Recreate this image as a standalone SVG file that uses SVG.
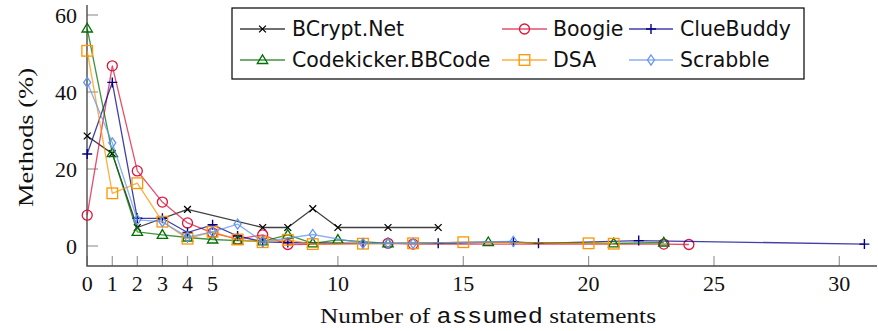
<svg xmlns="http://www.w3.org/2000/svg" width="878" height="331" viewBox="0 0 878 331">
<style>
.ser{fill:none;stroke-width:1.3;stroke-opacity:0.75;stroke-linejoin:round}
.ax{stroke:#4a4a4a;stroke-width:1.4;fill:none}
.tk{stroke:#9a9a9a;stroke-width:1.2}
.num{font-family:"Liberation Serif","DejaVu Serif",serif;font-size:22px;fill:#111}
.leg{font-family:"DejaVu Sans","Liberation Sans",sans-serif;font-size:20.5px;fill:#111}
.bc{stroke:#000}.bo{stroke:#dc143c}.cl{stroke:#00008b}.co{stroke:#007000}.ds{stroke:#ff9400}.sc{stroke:#6495ed}
</style>
<defs>
<marker id="mx" markerUnits="userSpaceOnUse" markerWidth="12" markerHeight="12" refX="6" refY="6" overflow="visible"><path d="M2.6,2.6L9.4,9.4M2.6,9.4L9.4,2.6" stroke="#000" stroke-width="1.3"/></marker>
<marker id="mo" markerUnits="userSpaceOnUse" markerWidth="14" markerHeight="14" refX="7" refY="7" overflow="visible"><circle cx="7" cy="7" r="5" fill="none" stroke="#dc143c" stroke-width="1.3"/></marker>
<marker id="mp" markerUnits="userSpaceOnUse" markerWidth="14" markerHeight="14" refX="7" refY="7" overflow="visible"><path d="M2,7H12M7,2V12" stroke="#00008b" stroke-width="1.4"/></marker>
<marker id="mt" markerUnits="userSpaceOnUse" markerWidth="14" markerHeight="14" refX="7" refY="7" overflow="visible"><path d="M7,1.8L12.2,10.5H1.8Z" fill="none" stroke="#007000" stroke-width="1.3"/></marker>
<marker id="ms" markerUnits="userSpaceOnUse" markerWidth="14" markerHeight="14" refX="7" refY="7" overflow="visible"><rect x="1.7" y="1.7" width="10.6" height="10.6" fill="none" stroke="#ff9400" stroke-width="1.3"/></marker>
<marker id="md" markerUnits="userSpaceOnUse" markerWidth="14" markerHeight="14" refX="7" refY="7" overflow="visible"><path d="M7,2L10.5,7L7,12L3.5,7Z" fill="none" stroke="#6495ed" stroke-width="1.3"/></marker>
</defs>

<g id="axes">
<g class="tk">
<line x1="87.2" y1="266" x2="87.2" y2="256"/><line x1="112.3" y1="266" x2="112.3" y2="256"/><line x1="137.3" y1="266" x2="137.3" y2="256"/><line x1="162.4" y1="266" x2="162.4" y2="256"/><line x1="187.5" y1="266" x2="187.5" y2="256"/><line x1="212.6" y1="266" x2="212.6" y2="256"/><line x1="337.9" y1="266" x2="337.9" y2="256"/><line x1="463.3" y1="266" x2="463.3" y2="256"/><line x1="588.6" y1="266" x2="588.6" y2="256"/><line x1="714" y1="266" x2="714" y2="256"/><line x1="839.3" y1="266" x2="839.3" y2="256"/>
<line x1="87" y1="246" x2="98" y2="246"/><line x1="87" y1="169" x2="98" y2="169"/><line x1="87" y1="92" x2="98" y2="92"/><line x1="87" y1="15" x2="98" y2="15"/>
</g>
<path class="ax" d="M87,5V266H877"/>
<g class="num" text-anchor="middle">
<text x="87.2" y="291">0</text><text x="112.3" y="291">1</text><text x="137.3" y="291">2</text><text x="162.4" y="291">3</text><text x="187.5" y="291">4</text><text x="212.6" y="291">5</text><text x="337.9" y="291">10</text><text x="463.3" y="291">15</text><text x="588.6" y="291">20</text><text x="714" y="291">25</text><text x="839.3" y="291">30</text>
</g>
<g class="num" text-anchor="end">
<text x="77" y="254">0</text><text x="77" y="177">20</text><text x="77" y="100">40</text><text x="77" y="23">60</text>
</g>
<text class="num" x="320" y="322.7" textLength="336" lengthAdjust="spacingAndGlyphs">Number of <tspan font-family="'Liberation Mono','DejaVu Sans Mono',monospace">assumed</tspan> statements</text>
<text class="num" transform="translate(33,137.5) rotate(-90)" x="0" y="0" text-anchor="middle" textLength="139" lengthAdjust="spacingAndGlyphs">Methods (%)</text>
</g>

<g id="connectors">
<polyline id="s-bcrypt" class="ser bc" marker-start="url(#mx)" marker-mid="url(#mx)" marker-end="url(#mx)" points="87.2,136 112.3,153.6 137.3,227.5 187.5,209.4 262.7,227.5 287.8,227.5 312.8,208.7 337.9,227.5 388,227.5 438.2,227.5"/>
<polyline id="s-boogie" class="ser bo" marker-start="url(#mo)" marker-mid="url(#mo)" marker-end="url(#mo)" points="87.2,215.2 112.3,65.8 137.3,170.9 162.4,202.1 187.5,222.9 212.6,232.9 237.6,239.1 262.7,234.8 287.8,244.5 388,243.3 413.1,244.1 663.8,244.1 688.9,244.5"/>
<polyline id="s-cluebuddy" class="ser cl" marker-start="url(#mp)" marker-mid="url(#mp)" marker-end="url(#mp)" points="87.2,154 112.3,82.4 137.3,218.3 162.4,218.3 187.5,232.5 212.6,224.8 237.6,236 262.7,241.8 287.8,242.5 363,243.3 438.2,243.3 513.4,241.8 538.5,243.3 638.7,240.6 864.4,244.1"/>
<polyline id="s-codekicker" class="ser co" marker-start="url(#mt)" marker-mid="url(#mt)" marker-end="url(#mt)" points="87.2,28.5 112.3,153.2 137.3,231.8 162.4,234.8 187.5,237.5 212.6,239.5 237.6,240.6 262.7,241.4 287.8,234.8 312.8,243.3 337.9,239.8 388,243.3 488.3,242.2 613.7,243.3 663.8,242.5"/>
<polyline id="s-dsa" class="ser ds" marker-start="url(#ms)" marker-mid="url(#ms)" marker-end="url(#ms)" points="87.2,50.8 112.3,193.3 137.3,183.2 162.4,221.7 187.5,238.7 212.6,231.8 237.6,239.5 262.7,242.2 287.8,239.8 312.8,244.1 363,243.7 413.1,243.3 463.3,242.2 588.6,243.3 613.7,243.7"/>
<polyline id="s-scrabble" class="ser sc" marker-start="url(#md)" marker-mid="url(#md)" marker-end="url(#md)" points="87.2,82.4 112.3,142.8 137.3,219.8 162.4,221.7 187.5,237.1 212.6,231.8 237.6,224.1 262.7,241.8 312.8,234.5 363,243.3 388,243.3 413.1,243.3 513.4,241.4"/>
</g>

<g id="legend">
<rect x="232" y="8" width="572" height="71" fill="#fff" stroke="#000" stroke-width="1.2"/>
<g id="leg-bcrypt"><polyline class="ser bc" points="240,29 262.5,29 285,29" marker-mid="url(#mx)"/><text class="leg" x="292" y="36">BCrypt.Net</text></g>
<g id="leg-boogie"><polyline class="ser bo" points="502,29 524.5,29 547,29" marker-mid="url(#mo)"/><text class="leg" x="553" y="36">Boogie</text></g>
<g id="leg-cluebuddy"><polyline class="ser cl" points="629,29 651,29 673,29" marker-mid="url(#mp)"/><text class="leg" x="680" y="36">ClueBuddy</text></g>
<g id="leg-codekicker"><polyline class="ser co" points="240,60 262.5,60 285,60" marker-mid="url(#mt)"/><text class="leg" x="292" y="66.5">Codekicker.BBCode</text></g>
<g id="leg-dsa"><polyline class="ser ds" points="502,60 524.5,60 547,60" marker-mid="url(#ms)"/><text class="leg" x="553" y="66.5">DSA</text></g>
<g id="leg-scrabble"><polyline class="ser sc" points="629,60 651,60 673,60" marker-mid="url(#md)"/><text class="leg" x="680" y="66.5">Scrabble</text></g>
</g>
</svg>
